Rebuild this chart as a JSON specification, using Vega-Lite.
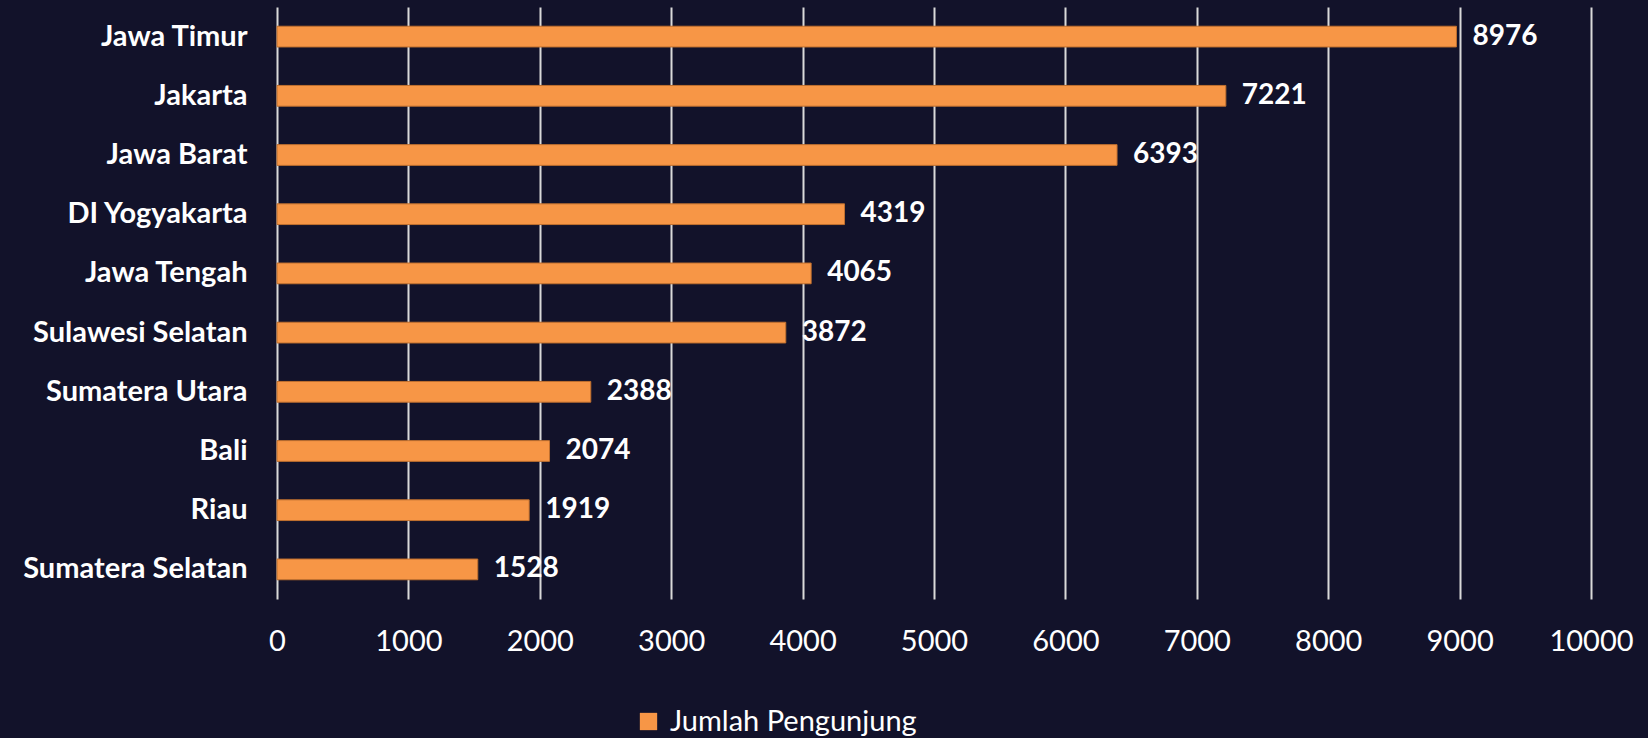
{
  "$schema": "https://vega.github.io/schema/vega-lite/v6.json",
  "autosize": {"type": "none"},
  "width": 1314,
  "height": 592,
  "padding": {"left": 277, "top": 7, "right": 57, "bottom": 139},
  "background": "#12122a",
  "config": {
    "view": {"stroke": null},
    "font": "Lato"
  },
  "data": {
    "values": [
      {"provinsi": "Jawa Timur", "jumlah": 8976, "series": "Jumlah Pengunjung"},
      {"provinsi": "Jakarta", "jumlah": 7221, "series": "Jumlah Pengunjung"},
      {"provinsi": "Jawa Barat", "jumlah": 6393, "series": "Jumlah Pengunjung"},
      {"provinsi": "DI Yogyakarta", "jumlah": 4319, "series": "Jumlah Pengunjung"},
      {"provinsi": "Jawa Tengah", "jumlah": 4065, "series": "Jumlah Pengunjung"},
      {"provinsi": "Sulawesi Selatan", "jumlah": 3872, "series": "Jumlah Pengunjung"},
      {"provinsi": "Sumatera Utara", "jumlah": 2388, "series": "Jumlah Pengunjung"},
      {"provinsi": "Bali", "jumlah": 2074, "series": "Jumlah Pengunjung"},
      {"provinsi": "Riau", "jumlah": 1919, "series": "Jumlah Pengunjung"},
      {"provinsi": "Sumatera Selatan", "jumlah": 1528, "series": "Jumlah Pengunjung"}
    ]
  },
  "encoding": {
    "y": {
      "field": "provinsi",
      "type": "nominal",
      "sort": {"field": "jumlah", "order": "descending"},
      "scale": {"paddingInner": 0.65, "paddingOuter": 0.325},
      "axis": {
        "title": null,
        "domain": false,
        "ticks": false,
        "labelFont": "Lato",
        "labelFontSize": 29,
        "labelFontWeight": "bold",
        "labelColor": "#ffffff",
        "labelPadding": 30,
        "labelLimit": 400
      }
    },
    "x": {
      "field": "jumlah",
      "type": "quantitative",
      "scale": {"domain": [0, 10000], "nice": false},
      "axis": {
        "title": null,
        "values": [0, 1000, 2000, 3000, 4000, 5000, 6000, 7000, 8000, 9000, 10000],
        "format": "d",
        "domain": false,
        "ticks": false,
        "grid": true,
        "gridColor": "#d9d9d9",
        "gridWidth": 2,
        "labelFlush": false,
        "labelFont": "Lato",
        "labelFontSize": 29,
        "labelColor": "#ffffff",
        "labelPadding": 28
      }
    }
  },
  "layer": [
    {
      "mark": {"type": "bar", "stroke": "#c0702f", "strokeWidth": 1},
      "encoding": {
        "color": {
          "field": "series",
          "type": "nominal",
          "scale": {"range": ["#f79646"]},
          "legend": {
            "title": null,
            "orient": "none",
            "legendX": 357,
            "legendY": 700,
            "symbolType": "square",
            "symbolSize": 300,
            "symbolStrokeWidth": 0,
            "labelFont": "Lato",
            "labelFontSize": 29,
            "labelColor": "#ffffff",
            "labelOffset": 7,
            "labelLimit": 500
          }
        }
      }
    },
    {
      "mark": {
        "type": "text",
        "align": "left",
        "baseline": "middle",
        "dx": 16,
        "font": "Lato",
        "fontSize": 28,
        "fontWeight": "bold",
        "color": "#ffffff"
      },
      "encoding": {
        "text": {"field": "jumlah", "type": "quantitative", "format": "d"}
      }
    }
  ]
}
